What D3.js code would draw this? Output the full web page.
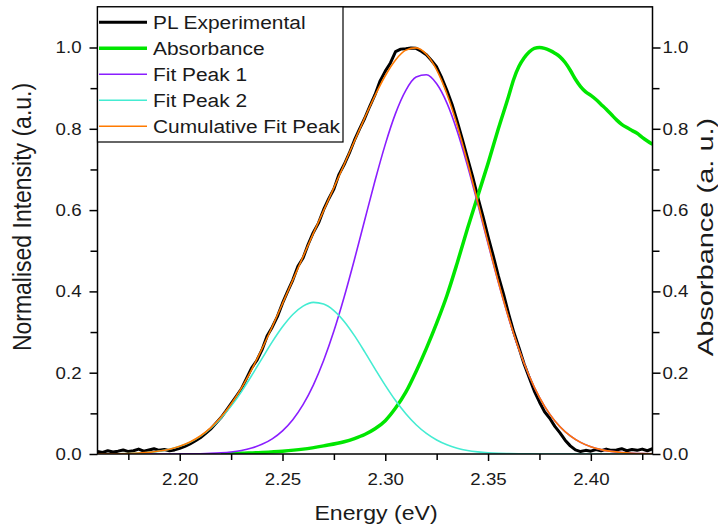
<!DOCTYPE html>
<html><head><meta charset="utf-8">
<script src="https://cdn.jsdelivr.net/npm/d3@7"></script>
<style>body{margin:0;background:#fff}svg{display:block}text{font-family:"Liberation Sans",Arial,sans-serif;fill:#1a1a1a}</style>
</head><body>
<svg id="c" width="718" height="527"></svg>
<script>
// ---- data ----
const xTicks = [2.20, 2.25, 2.30, 2.35, 2.40];
const xMinor = [2.175, 2.225, 2.275, 2.325, 2.375, 2.425];
const yTicks = [0.0, 0.2, 0.4, 0.6, 0.8, 1.0];
const yMinor = [0.1, 0.3, 0.5, 0.7, 0.9];
const legendLabels = ["PL Experimental", "Absorbance", "Fit Peak 1", "Fit Peak 2", "Cumulative Fit Peak"];

const fitEnergy = [2.160,2.165,2.170,2.175,2.180,2.185,2.190,2.195,2.200,2.205,2.210,2.215,2.220,2.225,2.230,2.235,2.240,2.245,2.250,2.255,2.260,2.265,2.270,2.275,2.280,2.285,2.290,2.295,2.300,2.305,2.310,2.315,2.320,2.325,2.330,2.335,2.340,2.345,2.350,2.355,2.360,2.365,2.370,2.375,2.380,2.385,2.390,2.395,2.400,2.405,2.410,2.415,2.420,2.425,2.430];
const fitPeak1 = [0,0,0,0,0.0000,0.0000,0.0001,0.0001,0.0002,0.0004,0.0008,0.0016,0.0029,0.0051,0.0088,0.0147,0.0238,0.0373,0.0570,0.0845,0.1215,0.1696,0.2299,0.3023,0.3861,0.4785,0.5756,0.6721,0.7617,0.8379,0.8946,0.9272,0.9328,0.9107,0.8632,0.7941,0.7091,0.6146,0.5171,0.4222,0.3347,0.2575,0.1923,0.1393,0.0981,0.0670,0.0444,0.0285,0.0178,0.0108,0.0064,0.0036,0.0020,0.0011,0.0006];
const fitPeak2 = [0.0002,0.0003,0.0007,0.0013,0.0023,0.0041,0.0071,0.0118,0.0188,0.0291,0.0434,0.0627,0.0874,0.1178,0.1533,0.1930,0.2346,0.2757,0.3129,0.3433,0.3639,0.3730,0.3689,0.3528,0.3261,0.2912,0.2513,0.2095,0.1688,0.1314,0.0989,0.0719,0.0505,0.0343,0.0225,0.0143,0.0087,0.0052,0.0029,0.0016,0.0009,0.0004,0.0002,0.0001,0,0,0,0,0,0,0,0,0,0,0];
const cumulativeFit = [0.0002,0.0003,0.0007,0.0013,0.0023,0.0041,0.0072,0.0119,0.0190,0.0295,0.0442,0.0643,0.0903,0.1229,0.1621,0.2077,0.2584,0.3130,0.3699,0.4278,0.4854,0.5426,0.5988,0.6551,0.7122,0.7697,0.8269,0.8816,0.9305,0.9693,0.9935,0.9991,0.9833,0.9450,0.8857,0.8084,0.7178,0.6198,0.5200,0.4238,0.3356,0.2579,0.1925,0.1394,0.0981,0.0670,0.0444,0.0285,0.0178,0.0108,0.0064,0.0036,0.0020,0.0011,0.0006];

const plExperimental = [
[2.1600,0.006],[2.1625,0.004],[2.1650,0.008],[2.1675,0.005],[2.1700,0.007],[2.1725,0.010],[2.1750,0.006],[2.1775,0.008],
[2.1800,0.012],[2.1825,0.007],[2.1850,0.010],[2.1875,0.013],[2.1900,0.009],[2.1925,0.011],[2.1950,0.008],[2.1975,0.010],
[2.2000,0.014],[2.2025,0.019],[2.2050,0.025],[2.2075,0.032],[2.2100,0.040],[2.2125,0.050],[2.2150,0.061],[2.2175,0.075],
[2.2200,0.089],[2.2225,0.106],[2.2250,0.124],[2.2275,0.142],[2.2300,0.160],[2.2325,0.186],[2.2350,0.212],[2.2375,0.230],
[2.2400,0.256],[2.2425,0.290],[2.2450,0.312],[2.2475,0.338],[2.2500,0.371],[2.2525,0.400],[2.2550,0.428],[2.2575,0.462],
[2.2600,0.482],[2.2625,0.516],[2.2650,0.545],[2.2675,0.568],[2.2700,0.601],[2.2725,0.628],[2.2750,0.652],[2.2775,0.688],
[2.2800,0.712],[2.2825,0.740],[2.2850,0.772],[2.2875,0.800],[2.2900,0.826],[2.2925,0.856],[2.2950,0.884],[2.2975,0.918],
[2.3000,0.942],[2.3025,0.962],[2.3050,0.990],[2.3075,0.996],[2.3100,0.997],[2.3125,0.999],[2.3150,0.998],[2.3175,0.991],
[2.3200,0.982],[2.3225,0.968],[2.3250,0.952],[2.3275,0.925],[2.3300,0.894],[2.3325,0.860],[2.3350,0.818],[2.3375,0.774],
[2.3400,0.728],[2.3425,0.682],[2.3450,0.632],[2.3475,0.585],[2.3500,0.535],[2.3525,0.488],[2.3550,0.438],[2.3575,0.394],
[2.3600,0.345],[2.3625,0.300],[2.3650,0.262],[2.3675,0.222],[2.3700,0.188],[2.3725,0.155],[2.3750,0.128],[2.3775,0.104],
[2.3800,0.088],[2.3825,0.068],[2.3850,0.052],[2.3875,0.034],[2.3900,0.020],[2.3925,0.010],[2.3950,0.006],[2.3975,0.009],
[2.4000,0.007],[2.4025,0.011],[2.4050,0.008],[2.4075,0.012],[2.4100,0.009],[2.4125,0.010],[2.4150,0.013],[2.4175,0.008],
[2.4200,0.011],[2.4225,0.009],[2.4250,0.012],[2.4275,0.008],[2.4300,0.013]];

const absorbance = [
[2.220,0.000],[2.230,0.002],[2.240,0.004],[2.250,0.007],[2.260,0.012],[2.270,0.020],[2.280,0.030],[2.285,0.038],
[2.290,0.048],[2.295,0.062],[2.300,0.082],[2.305,0.113],[2.310,0.152],[2.315,0.203],[2.320,0.260],[2.325,0.322],
[2.330,0.390],[2.335,0.470],[2.340,0.555],[2.345,0.635],[2.350,0.715],[2.355,0.800],[2.360,0.880],[2.3625,0.922],
[2.365,0.953],[2.3675,0.974],[2.370,0.989],[2.3725,0.998],[2.375,1.000],[2.3775,0.998],[2.380,0.993],[2.3825,0.986],
[2.385,0.977],[2.3875,0.963],[2.390,0.944],[2.3925,0.922],[2.395,0.904],[2.3975,0.891],[2.400,0.882],[2.4025,0.872],
[2.405,0.860],[2.4075,0.848],[2.410,0.835],[2.4125,0.822],[2.415,0.811],[2.4175,0.803],[2.420,0.796],[2.4225,0.789],
[2.425,0.779],[2.4275,0.770],[2.430,0.762]];

// ---- chart ----
const L = 97.5, R = 652.5, B = 454, T = 454 - 1.1 * 406.5;
const svg = d3.select("#c");
const x = d3.scaleLinear().domain([2.16, 2.43]).range([L, R]);
const y = d3.scaleLinear().domain([0, 1.1]).range([B, T]);
const yR = d3.scaleLinear().domain([0, 1.1]).range([B, T]);

const colors = {pl: "#000000", abs: "#00e600", p1: "#8a1eff", p2: "#44ecd2", cum: "#ff7a00"};

svg.append("clipPath").attr("id", "clip").append("rect")
  .attr("x", L).attr("y", T).attr("width", R - L).attr("height", B - T);
const plot = svg.append("g").attr("clip-path", "url(#clip)");

const lineXY = d3.line().x(d => x(d[0])).y(d => y(d[1]));
const lineR = d3.line().x(d => x(d[0])).y(d => yR(d[1]));
const pairs = vals => fitEnergy.map((e, i) => [e, vals[i]]);

plot.append("path").datum(plExperimental).attr("d", lineXY)
  .attr("fill", "none").attr("stroke", colors.pl).attr("stroke-width", 3).attr("stroke-linejoin", "round");
plot.append("path").datum(absorbance).attr("d", lineR.curve(d3.curveMonotoneX))
  .attr("fill", "none").attr("stroke", colors.abs).attr("stroke-width", 3.5).attr("stroke-linejoin", "round");
plot.append("path").datum(pairs(fitPeak1)).attr("d", lineXY.curve(d3.curveMonotoneX))
  .attr("fill", "none").attr("stroke", colors.p1).attr("stroke-width", 1.6);
plot.append("path").datum(pairs(fitPeak2)).attr("d", lineXY.curve(d3.curveMonotoneX))
  .attr("fill", "none").attr("stroke", colors.p2).attr("stroke-width", 1.6);
plot.append("path").datum(pairs(cumulativeFit)).attr("d", lineXY.curve(d3.curveMonotoneX))
  .attr("fill", "none").attr("stroke", colors.cum).attr("stroke-width", 1.6);

// axes
function styleAxis(g) {
  g.select(".domain").remove();
  g.selectAll("line").attr("stroke", "#000").attr("stroke-width", 1.5);
  g.selectAll("text").attr("font-size", 17).attr("fill", "#1a1a1a").attr("font-family", '"Liberation Sans",Arial,sans-serif');
}
const gx = svg.append("g").attr("transform", `translate(0,${B})`)
  .call(d3.axisBottom(x).tickValues(xTicks).tickFormat(d3.format(".2f")).tickSize(7).tickPadding(6));
styleAxis(gx);
gx.selectAll("text").attr("y", 31).attr("dy", null).attr("transform", "scale(1.1,1)");
const gxm = svg.append("g").attr("transform", `translate(0,${B})`)
  .call(d3.axisBottom(x).tickValues(xMinor).tickFormat("").tickSize(6));
styleAxis(gxm);

const gy = svg.append("g").attr("transform", `translate(${L},0)`)
  .call(d3.axisLeft(y).tickValues(yTicks).tickFormat(d3.format(".1f")).tickSize(8).tickPadding(6.5));
styleAxis(gy);
gy.selectAll("text").attr("transform", "scale(1.1,1)");
const gym = svg.append("g").attr("transform", `translate(${L},0)`)
  .call(d3.axisLeft(y).tickValues(yMinor).tickFormat("").tickSize(7));
styleAxis(gym);

const gyr = svg.append("g").attr("transform", `translate(${R},0)`)
  .call(d3.axisRight(yR).tickValues(yTicks).tickFormat(d3.format(".1f")).tickSize(8).tickPadding(1));
styleAxis(gyr);
gyr.selectAll("text").attr("transform", "scale(1.1,1)");
const gyrm = svg.append("g").attr("transform", `translate(${R},0)`)
  .call(d3.axisRight(yR).tickValues(yMinor).tickFormat("").tickSize(7));
styleAxis(gyrm);

// frame
svg.append("rect").attr("x", L).attr("y", T).attr("width", R - L).attr("height", B - T)
  .attr("fill", "none").attr("stroke", "#000").attr("stroke-width", 1.5);

// titles
svg.append("text").attr("transform", "translate(376,520) scale(1.1,1)")
  .attr("text-anchor", "middle").attr("font-size", 21).text("Energy (eV)");
svg.append("text").attr("transform", "translate(31,217) scale(1.1,1) rotate(-90)")
  .attr("text-anchor", "middle").attr("font-size", 23).text("Normalised Intensity (a.u.)");
svg.append("text").attr("transform", "translate(713,237) scale(1.1,1) rotate(-90) scale(1.45,1)")
  .attr("text-anchor", "middle").attr("font-size", 20).text("Absorbance (a. u.)");

// legend
const lg = svg.append("g");
lg.append("rect").attr("x", L).attr("y", T).attr("width", 343 - L).attr("height", 142 - T)
  .attr("fill", "#fff").attr("stroke", "#000").attr("stroke-width", 1.2);
const lgColors = [colors.pl, colors.abs, colors.p1, colors.p2, colors.cum];
const lgWidths = [3, 3.5, 1.6, 1.6, 1.6];
const rowY = d3.scaleLinear().domain([0, 4]).range([22.3, 126.3]);
legendLabels.forEach((lab, i) => {
  lg.append("line").attr("x1", 99).attr("x2", 147).attr("y1", rowY(i)).attr("y2", rowY(i))
    .attr("stroke", lgColors[i]).attr("stroke-width", lgWidths[i]);
  lg.append("text").attr("transform", `translate(153,${rowY(i) + 7}) scale(1.1,1)`)
    .attr("font-size", 19).text(lab);
});
</script>
</body></html>
